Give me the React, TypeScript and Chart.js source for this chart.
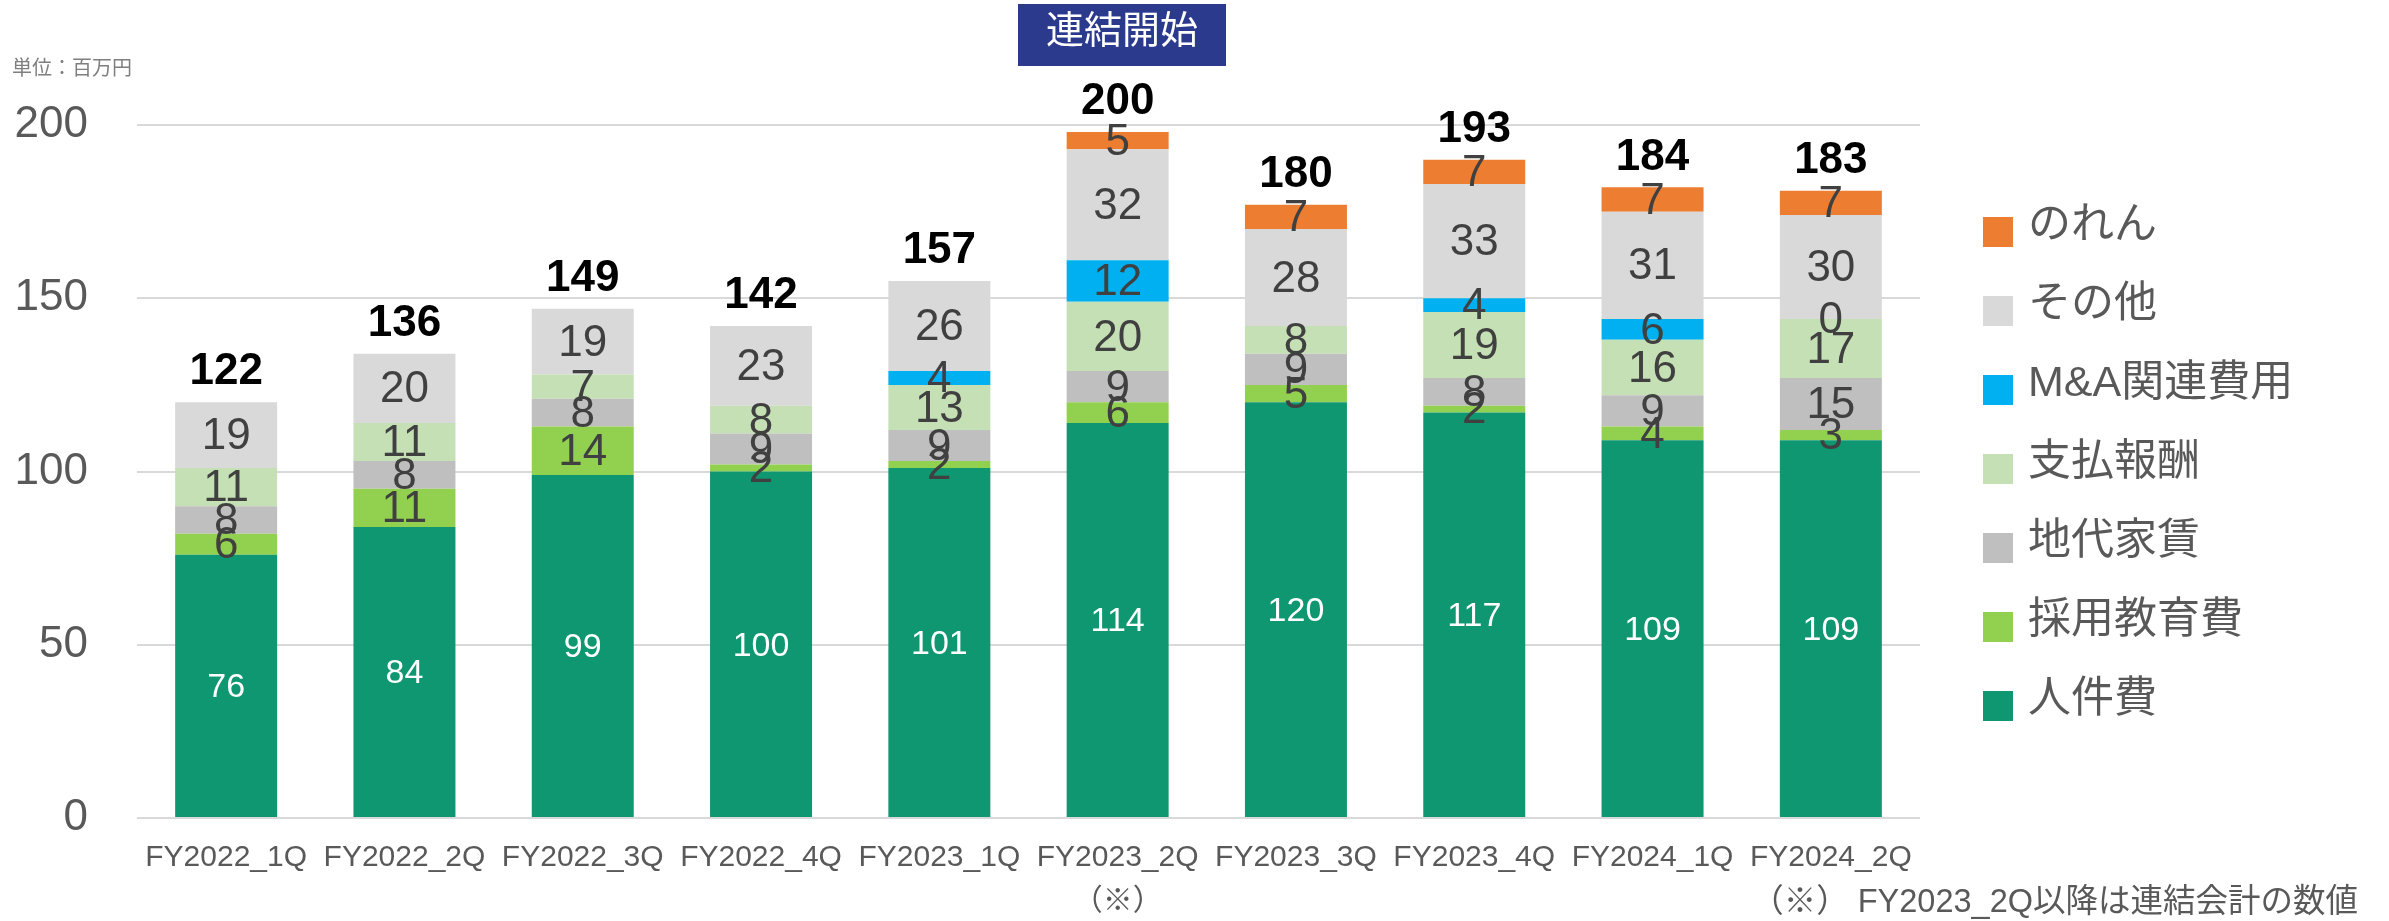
import React, { useEffect, useRef } from "react";
import { Chart, registerables } from "chart.js";

Chart.register(...registerables);

// ---- data ----
const categories = [
  "FY2022_1Q", "FY2022_2Q", "FY2022_3Q", "FY2022_4Q", "FY2023_1Q",
  "FY2023_2Q", "FY2023_3Q", "FY2023_4Q", "FY2024_1Q", "FY2024_2Q",
];
const markedCategory = "FY2023_2Q";
const markNote = "（※）";

const seriesNames = ["人件費", "採用教育費", "地代家賃", "支払報酬", "M&A関連費用", "その他", "のれん"];
const personnel = [76, 84, 99, 100, 101, 114, 120, 117, 109, 109];
const recruiting = [6, 11, 14, 2, 2, 6, 5, 2, 4, 3];
const rent = [8, 8, 8, 9, 9, 9, 9, 8, 9, 15];
const fees = [11, 11, 7, 8, 13, 20, 8, 19, 16, 17];
const mna = [null, null, null, null, 4, 12, null, 4, 6, 0];
const other = [19, 20, 19, 23, 26, 32, 28, 33, 31, 30];
const goodwill = [null, null, null, null, null, 5, 7, 7, 7, 7];
const totals = [122, 136, 149, 142, 157, 200, 180, 193, 184, 183];

const yTicks = [0, 50, 100, 150, 200];

const unitText = "単位：百万円";
const bannerText = "連結開始";
const footnoteText = "（※） FY2023_2Q以降は連結会計の数値";

const colors = ["#0E9770", "#92D050", "#BFBFBF", "#C5E0B4", "#00B0F0", "#D9D9D9", "#ED7D31"];

const LATIN = '"Liberation Sans", "Noto Sans CJK JP", sans-serif';
const CJK = '"Liberation Sans", "Noto Sans CJK JP", sans-serif';

const W = 2389;
const H = 921;

const overlayPlugin = {
  id: "overlay",
  afterDatasetsDraw(chart: any) {
    const ctx = chart.ctx;
    ctx.save();
    ctx.textAlign = "center";
    ctx.textBaseline = "middle";
    // segment labels
    chart.data.datasets.forEach((ds: any, i: number) => {
      const meta = chart.getDatasetMeta(i);
      meta.data.forEach((el: any, j: number) => {
        const v = ds.data[j];
        if (v === null || v === undefined) return;
        const p = el.getProps(["x", "y", "base"], true);
        if (i === 0) {
          ctx.fillStyle = "#FFFFFF";
          ctx.font = `34px ${LATIN}`;
        } else {
          ctx.fillStyle = "#404040";
          ctx.font = `44px ${LATIN}`;
        }
        ctx.fillText(String(v), p.x, (p.y + p.base) / 2 + 2);
      });
    });
    // totals
    ctx.fillStyle = "#000000";
    ctx.font = `bold 44px ${LATIN}`;
    categories.forEach((_, j) => {
      let top = Infinity;
      let x = 0;
      chart.data.datasets.forEach((ds: any, i: number) => {
        const v = ds.data[j];
        if (v === null || v === undefined) return;
        const el = chart.getDatasetMeta(i).data[j];
        const p = el.getProps(["x", "y"], true);
        x = p.x;
        if (p.y < top) top = p.y;
      });
      ctx.fillText(String(totals[j]), x, top - 30);
    });
    ctx.restore();
  },
  afterDraw(chart: any) {
    const ctx = chart.ctx;
    ctx.save();
    // legend (reverse order)
    const ds = chart.data.datasets;
    ctx.textAlign = "left";
    ctx.textBaseline = "middle";
    ctx.font = `43px ${CJK}`;
    for (let k = 0; k < ds.length; k++) {
      const d = ds[ds.length - 1 - k];
      const cy = 232 + k * 79;
      ctx.fillStyle = d.backgroundColor;
      ctx.fillRect(1983, cy - 15, 30, 30);
      ctx.fillStyle = "#595959";
      ctx.fillText(d.label, 2028, cy - 6);
    }
    // unit
    ctx.fillStyle = "#7F7F7F";
    ctx.font = `20px ${CJK}`;
    ctx.fillText(unitText, 12, 69);
    // banner
    ctx.fillStyle = "#2B3A8C";
    ctx.fillRect(1018, 4, 208, 62);
    ctx.fillStyle = "#FFFFFF";
    ctx.font = `38px ${CJK}`;
    ctx.textAlign = "center";
    ctx.fillText(bannerText, 1122, 33);
    // footnote
    ctx.fillStyle = "#595959";
    ctx.font = `32.5px ${CJK}`;
    ctx.textAlign = "right";
    ctx.fillText(footnoteText, 2358, 903);
    ctx.restore();
  },
};

export default function App() {
  const ref = useRef<HTMLCanvasElement | null>(null);
  useEffect(() => {
    if (!ref.current) return;
    const series = [personnel, recruiting, rent, fees, mna, other, goodwill];
    const chart = new Chart(ref.current, {
      type: "bar",
      data: {
        labels: categories.map((c) => (c === markedCategory ? [c, markNote] : c)),
        datasets: series.map((s, i) => ({
          label: seriesNames[i],
          data: s,
          backgroundColor: colors[i],
          borderWidth: 0,
          barPercentage: 0.572,
          categoryPercentage: 1,
        })),
      },
      options: {
        responsive: false,
        animation: false,
        layout: { padding: { left: 0, right: W - 1920, top: 125, bottom: 0 } },
        plugins: {
          legend: { display: false },
          tooltip: { enabled: false },
          title: { display: false },
        },
        scales: {
          x: {
            stacked: true,
            grid: { display: false, drawTicks: false },
            border: { display: false },
            ticks: {
              color: "#595959",
              font: { family: LATIN, size: 30, lineHeight: 1.47 },
              padding: 18,
              maxRotation: 0,
              autoSkip: false,
            },
            afterFit: (s: any) => {
              s.height = H - 818;
            },
          },
          y: {
            stacked: true,
            min: 0,
            max: 200,
            afterBuildTicks: (s: any) => {
              s.ticks = yTicks.map((v) => ({ value: v }));
            },
            grid: { color: "#D9D9D9", lineWidth: 2, drawTicks: false },
            border: { display: false },
            ticks: {
              color: "#595959",
              font: { family: LATIN, size: 44 },
              padding: 49,
            },
            afterFit: (s: any) => {
              s.width = 137;
            },
          },
        },
      },
      plugins: [overlayPlugin],
    });
    return () => chart.destroy();
  }, []);
  return (
    <div style={{ position: "absolute", left: 0, top: 0, width: W, height: H, background: "#fff" }}>
      <canvas ref={ref} width={W} height={H} style={{ display: "block", width: W, height: H }} />
    </div>
  );
}
